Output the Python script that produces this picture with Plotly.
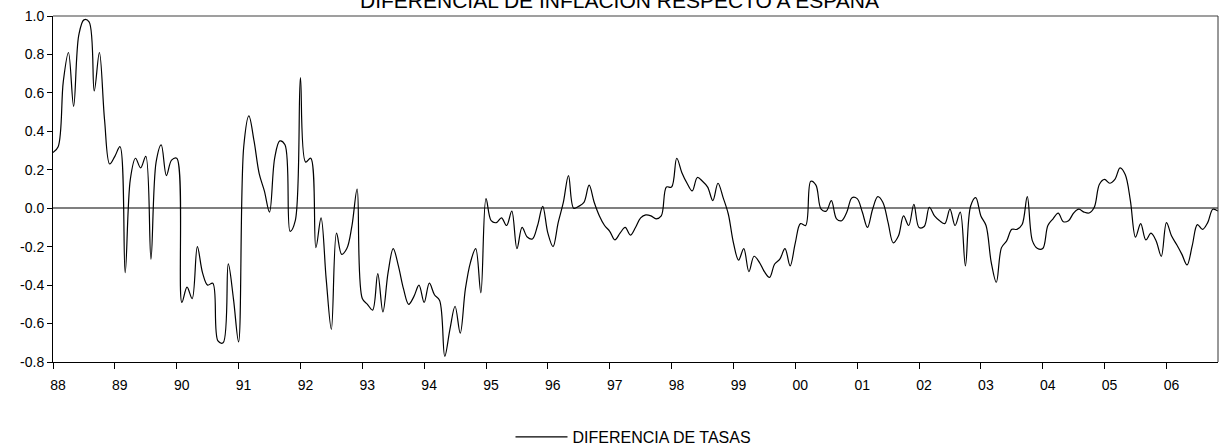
import plotly.graph_objects as go

# Tick labels (years, one per January) and y tick labels
year_labels = ["88", "89", "90", "91", "92", "93", "94", "95", "96", "97",
               "98", "99", "00", "01", "02", "03", "04", "05", "06"]
y_tick_values = [-0.8, -0.6, -0.4, -0.2, 0.0, 0.2, 0.4, 0.6, 0.8, 1.0]
y_tick_labels = ["-0.8", "-0.6", "-0.4", "-0.2", "0.0", "0.2", "0.4", "0.6", "0.8", "1.0"]

# Monthly series, Jan 1988 .. Nov 2006
diferencia_de_tasas = [
    0.29, 0.32, 0.66, 0.81, 0.53, 0.90, 0.98, 0.97, 0.61, 0.81, 0.46, 0.23,      # 1988
    0.27, 0.32, -0.335, 0.15, 0.26, 0.21, 0.27, -0.265, 0.24, 0.33, 0.17, 0.25,  # 1989
    0.26, -0.49, -0.41, -0.47, -0.20, -0.335, -0.40, -0.39, -0.69, -0.70, -0.29, -0.47,  # 1990
    -0.695, 0.32, 0.48, 0.35, 0.18, 0.09, -0.02, 0.26, 0.35, 0.33, -0.12, -0.065,  # 1991
    0.68, 0.24, 0.26, -0.205, -0.05, -0.37, -0.63, -0.13, -0.24, -0.21, -0.09, 0.10,  # 1992
    -0.47, -0.50, -0.53, -0.34, -0.54, -0.335, -0.21, -0.30, -0.42, -0.50, -0.46, -0.40,  # 1993
    -0.49, -0.39, -0.45, -0.48, -0.77, -0.63, -0.51, -0.65, -0.42, -0.28, -0.21, -0.44,  # 1994
    0.05, -0.065, -0.075, -0.05, -0.09, -0.015, -0.21, -0.10, -0.15, -0.16, -0.09, 0.01,  # 1995
    -0.13, -0.20, -0.075, 0.03, 0.17, 0.00, 0.01, 0.03, 0.12, 0.03, -0.04, -0.09,  # 1996
    -0.12, -0.165, -0.13, -0.10, -0.14, -0.10, -0.05, -0.035, -0.04, -0.055, -0.04, 0.11,  # 1997
    0.11, 0.26, 0.185, 0.13, 0.09, 0.16, 0.14, 0.11, 0.04, 0.13, 0.055, -0.03,  # 1998
    -0.18, -0.27, -0.21, -0.33, -0.25, -0.28, -0.33, -0.36, -0.29, -0.265, -0.21, -0.30,  # 1999
    -0.18, -0.08, -0.09, 0.14, 0.12, -0.005, -0.015, 0.04, -0.055, -0.065, -0.02, 0.055,  # 2000
    0.05, -0.02, -0.10, -0.005, 0.06, 0.03, -0.075, -0.18, -0.145, -0.04, -0.09, 0.02,  # 2001
    -0.10, -0.095, 0.005, -0.04, -0.065, -0.08, -0.005, -0.09, -0.02, -0.30, 0.01, 0.055,  # 2002
    -0.04, -0.09, -0.28, -0.385, -0.205, -0.17, -0.11, -0.11, -0.085, 0.06, -0.17, -0.21,  # 2003
    -0.21, -0.09, -0.055, -0.025, -0.07, -0.065, -0.025, -0.005, -0.02, -0.025, 0.005, 0.125,  # 2004
    0.15, 0.13, 0.15, 0.21, 0.175, 0.04, -0.15, -0.08, -0.165, -0.13, -0.17, -0.25,  # 2005
    -0.075, -0.145, -0.19, -0.24, -0.295, -0.195, -0.085, -0.11, -0.075, -0.005, -0.015,  # 2006
]

months = list(range(len(diferencia_de_tasas)))
year_tick_positions = [12 * i for i in range(len(year_labels))]

FONT = "Liberation Sans, Arial, sans-serif"

fig = go.Figure()
fig.add_trace(go.Scatter(
    x=months,
    y=diferencia_de_tasas,
    mode="lines",
    name="DIFERENCIA DE TASAS",
    line=dict(color="black", width=1.2, shape="spline", smoothing=1.0),
))

fig.update_layout(
    width=1221,
    height=446,
    autosize=False,
    margin=dict(l=53, r=3, t=16, b=84, autoexpand=False),
    paper_bgcolor="white",
    plot_bgcolor="white",
    font=dict(family=FONT, size=13, color="black"),
    showlegend=True,
    legend=dict(
        orientation="h",
        x=(633.5 - 53) / (1221 - 56),
        xanchor="center",
        yref="paper",
        y=(362.0 - 437.0) / 346.0,
        yanchor="middle",
        font=dict(family=FONT, size=16, color="black"),
        itemwidth=52,
        bgcolor="rgba(0,0,0,0)",
    ),
    annotations=[
        dict(
            text="DIFERENCIAL DE INFLACIÓN RESPECTO A ESPAÑA",
            xref="paper", yref="paper",
            x=(619 - 53) / (1221 - 56),
            y=1 + (16.0 - 1.0) / 346.0,
            xanchor="center", yanchor="middle",
            showarrow=False,
            font=dict(family=FONT, size=21, color="black"),
        )
    ],
    xaxis=dict(
        range=[0, len(diferencia_de_tasas) - 1],
        tickmode="array",
        tickvals=year_tick_positions,
        ticktext=year_labels,
        ticks="outside",
        ticklen=6,
        tickwidth=1,
        tickcolor="black",
        showline=True,
        linecolor="black",
        linewidth=1,
        showgrid=False,
        zeroline=False,
        automargin=False,
        tickfont=dict(family=FONT, size=14, color="black"),
        ticklabelshift=5,
        ticklabelstandoff=4,
    ),
    yaxis=dict(
        range=[-0.8, 1.0],
        tickmode="array",
        tickvals=y_tick_values,
        ticktext=y_tick_labels,
        ticks="outside",
        ticklen=5,
        tickwidth=1,
        tickcolor="black",
        showline=True,
        linecolor="black",
        linewidth=1,
        showgrid=False,
        zeroline=True,
        zerolinecolor="#7f7f7f",
        zerolinewidth=1.5,
        automargin=False,
        tickfont=dict(family=FONT, size=14, color="black"),
    ),
    shapes=[
        dict(type="line", xref="paper", yref="paper", x0=0, x1=1, y0=1, y1=1,
             line=dict(color="#7f7f7f", width=1.5)),
        dict(type="line", xref="paper", yref="paper", x0=1, x1=1, y0=0, y1=1,
             line=dict(color="#333333", width=1)),
    ],
)

fig.write_html(
    "out.html",
    config={"displayModeBar": False},
    post_script="document.body.style.margin='0';document.body.style.padding='0';",
)
